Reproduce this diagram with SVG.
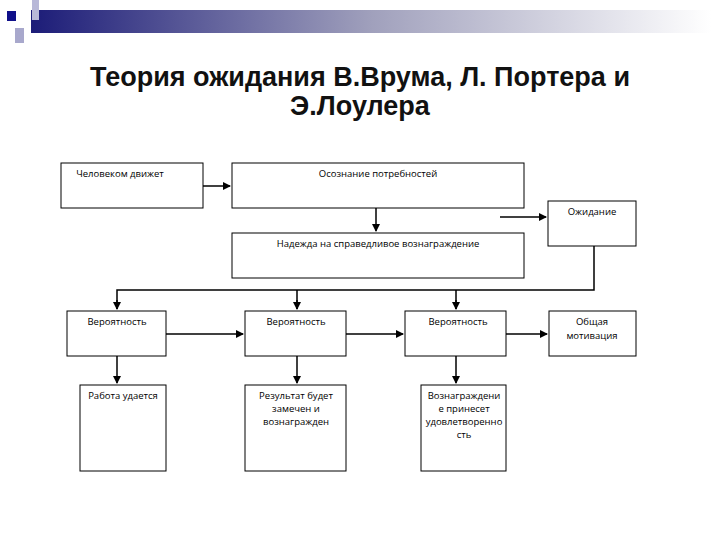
<svg xmlns="http://www.w3.org/2000/svg" width="720" height="540" viewBox="0 0 720 540">
<style>
.b{fill:#fff;stroke:#000;stroke-width:1}
.t{font-family:"Open Sans","DejaVu Sans",sans-serif;font-size:9.5px;text-anchor:middle;fill:#000}
.c{stroke:#000;stroke-width:1.5;fill:none}
.h{font-family:"Liberation Sans",Arial,sans-serif;font-size:27px;font-weight:bold;text-anchor:middle;fill:#111}
</style>
<defs>
<linearGradient id="g" x1="0" x2="1"><stop offset="0" stop-color="#1c1c78"/><stop offset="0.5" stop-color="#a0a0bc"/><stop offset="1" stop-color="#fff"/></linearGradient>
<marker id="a" markerWidth="8" markerHeight="8" refX="7" refY="4" orient="auto" markerUnits="userSpaceOnUse"><path d="M0,0 L8,4 L0,8z"/></marker>
</defs>
<rect width="720" height="540" fill="#fff"/>
<rect x="31" y="10" width="680" height="23" fill="url(#g)"/>
<rect x="32" y="0" width="7" height="20" fill="#b8b8d8"/>
<rect x="15" y="28" width="9" height="15" fill="#a8a8cc"/>
<rect x="7" y="11" width="9" height="10" fill="#10108a"/>
<text class="h" x="360" y="86">Теория ожидания В.Врума, Л. Портера и</text>
<text class="h" x="360" y="115">Э.Лоулера</text>
<g id="connectors">
<path class="c" d="M184,186H230" marker-end="url(#a)"/>
<path class="c" d="M376,208V231" marker-end="url(#a)"/>
<path class="c" d="M500,217H546" marker-end="url(#a)"/>
<path class="c" d="M594,246V290H117V309M297,290V309M456,290V309"/>
<path class="c" d="M117,300V309" marker-end="url(#a)"/>
<path class="c" d="M297,300V309" marker-end="url(#a)"/>
<path class="c" d="M456,300V309" marker-end="url(#a)"/>
<path class="c" d="M166,334H243" marker-end="url(#a)"/>
<path class="c" d="M346,334H403" marker-end="url(#a)"/>
<path class="c" d="M506,334H547" marker-end="url(#a)"/>
<path class="c" d="M117,356V383" marker-end="url(#a)"/>
<path class="c" d="M297,356V383" marker-end="url(#a)"/>
<path class="c" d="M456,356V383" marker-end="url(#a)"/>
</g>
<g id="n1"><rect class="b" x="61" y="163" width="142" height="45"/><text class="t" x="120" y="177">Человеком движет</text></g>
<g id="n2"><rect class="b" x="232" y="163" width="292" height="45"/><text class="t" x="378" y="177">Осознание потребностей</text></g>
<g id="n3"><rect class="b" x="548" y="201" width="88" height="45"/><text class="t" x="592" y="215">Ожидание</text></g>
<g id="n4"><rect class="b" x="232" y="233" width="292" height="45"/><text class="t" x="378" y="247">Надежда на справедливое вознаграждение</text></g>
<g id="n5"><rect class="b" x="67" y="311" width="99" height="45"/><text class="t" x="117" y="325">Вероятность</text></g>
<g id="n6"><rect class="b" x="245" y="311" width="101" height="45"/><text class="t" x="296" y="325">Вероятность</text></g>
<g id="n7"><rect class="b" x="405" y="311" width="101" height="45"/><text class="t" x="458" y="325">Вероятность</text></g>
<g id="n8"><rect class="b" x="549" y="311" width="87" height="45"/><text class="t" x="592" y="325">Общая</text><text class="t" x="592" y="339">мотивация</text></g>
<g id="n9"><rect class="b" x="80" y="385" width="86" height="86"/><text class="t" x="123" y="399">Работа удается</text></g>
<g id="n10"><rect class="b" x="245" y="385" width="101" height="86"/><text class="t" x="296" y="399">Результат будет</text><text class="t" x="296" y="412">замечен  и</text><text class="t" x="296" y="425">вознагражден</text></g>
<g id="n11"><rect class="b" x="421" y="385" width="85" height="86"/><text class="t" x="464" y="399">Вознаграждени</text><text class="t" x="464" y="412">е принесет</text><text class="t" x="464" y="425">удовлетворенно</text><text class="t" x="464" y="438">сть</text></g>
</svg>
